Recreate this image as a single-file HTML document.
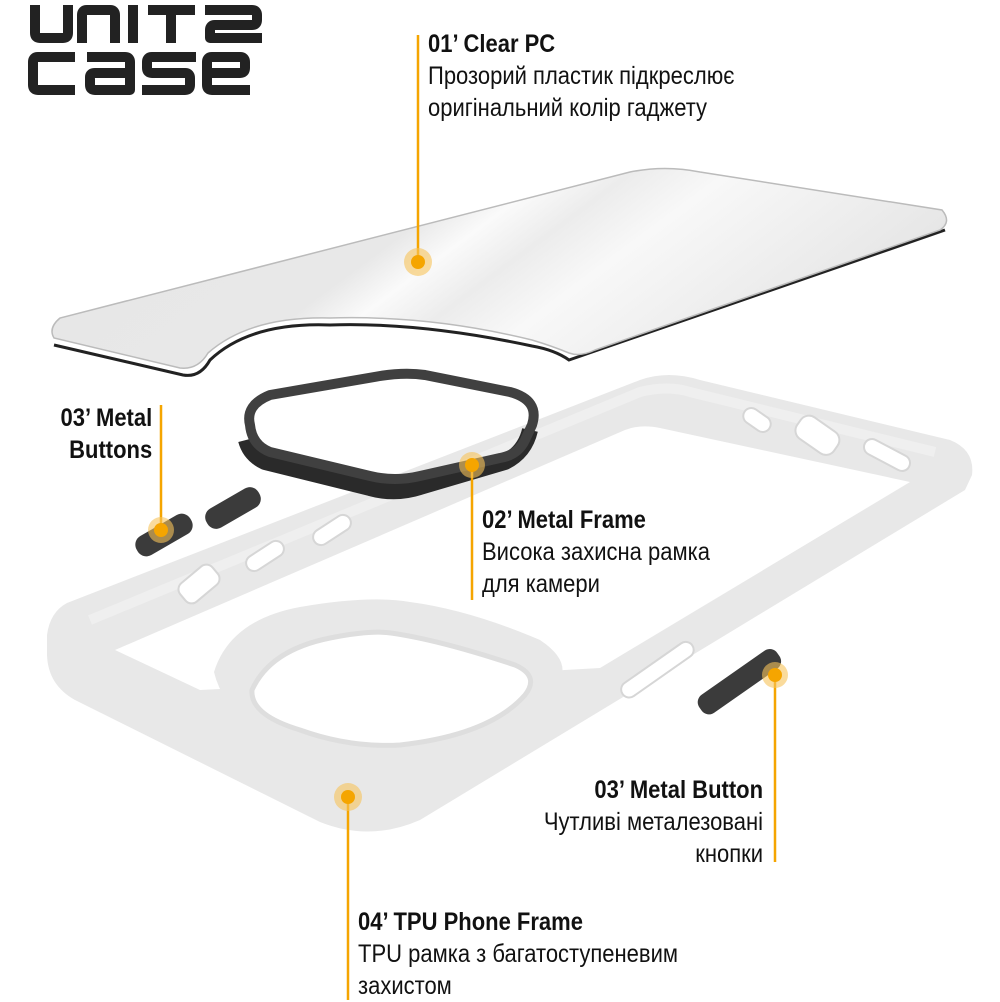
<!DOCTYPE html>
<html><head><meta charset="utf-8"><style>
html,body{margin:0;padding:0;background:#fff;}
body{width:1000px;height:1000px;position:relative;overflow:hidden;font-family:"Liberation Sans",sans-serif;}
svg{position:absolute;left:0;top:0;}
.t{position:absolute;font-size:25px;color:#111;white-space:nowrap;transform:scaleX(0.88);line-height:32px;}
.l{transform-origin:left top;}
.r{transform-origin:right top;text-align:right;}
b{font-weight:bold;}
</style></head><body>
<svg width="1000" height="1000" viewBox="0 0 1000 1000">
<defs>
<linearGradient id="pl" x1="0" y1="0" x2="1" y2="0.3">
<stop offset="0" stop-color="#e6e6e6"/><stop offset="0.45" stop-color="#e8e8e8"/><stop offset="0.52" stop-color="#fafafa"/><stop offset="0.6" stop-color="#ececec"/><stop offset="0.7" stop-color="#f8f8f8"/><stop offset="1" stop-color="#e6e6e6"/></linearGradient>
</defs>
<!-- logo -->
<g fill="none" stroke="#222" stroke-width="10" stroke-linejoin="round" stroke-linecap="butt">
<path d="M35,5 V33 Q35,38 40,38 H63 Q68,38 68,33 V5"/>
<path d="M82,43 V15 Q82,10 87,10 H110 Q115,10 115,15 V43"/>
<path d="M133,5 V43"/>
<path d="M148,10 H195 M171,10 V43"/>
<path d="M205,10 H252 Q257,10 257,15 V20 Q257,25 252,25 H215 Q210,25 210,30 V38 H262"/>
<path d="M75,57 H38 Q33,57 33,62 V85 Q33,90 38,90 H75"/>
<path d="M87,57 H125 Q130,57 130,62 V90 H95 Q90,90 90,85 V77 Q90,73 95,73 H130"/>
<path d="M196,57 H152 Q147,57 147,62 V68 Q147,73 152,73 H185 Q190,73 190,78 V85 Q190,90 185,90 H142"/>
<path d="M250,90 H212 Q207,90 207,85 V62 Q207,57 212,57 H240 Q245,57 245,62 V68 Q245,73 240,73 H207"/>
</g>
<!-- clear plate -->
<path d="M54,345 L183,375 Q200,378 210,360 Q250,322 330,325 Q420,322 532,346 Q555,350 569,360 L945,230" fill="none" stroke="#222" stroke-width="3"/>
<path d="M60,318 Q48,328 54,338 L180,368 Q198,370 208,353 Q250,316 330,318 Q430,315 532,340 Q552,346 569,353 Q580,357 595,350 L940,230 Q952,222 942,210 L700,172 Q665,165 630,172 Z" fill="url(#pl)" stroke="#bbb" stroke-width="1.5"/>
<!-- TPU frame -->
<path d="M67,603 L640,380 Q668,370 700,380 L950,440 Q975,450 972,475 L965,490 L420,820 Q370,842 320,822 L75,700 Q48,685 47,655 L47,635 Q50,612 67,603 Z" fill="#e8e8e8"/>
<path d="M115,650 L625,430 Q640,424 660,428 L910,482 L600,668 L300,685 L200,690 Z" fill="#fff"/>
<path d="M90,620 L640,392 Q668,385 690,392 L935,452" fill="none" stroke="#efefef" stroke-width="10"/>
<!-- camera island -->
<path d="M214,672 Q230,620 300,607 Q370,595 410,602 Q470,610 540,640 Q570,660 560,680 Q530,730 470,760 L400,800 L300,760 Q225,720 214,672 Z" fill="#e8e8e8"/>
<path d="M252,690 Q270,650 330,638 Q370,630 391,633 Q440,640 515,665 Q540,676 525,695 Q490,735 400,745 Q350,748 300,730 Q250,715 252,690 Z" fill="#fff" stroke="#dedede" stroke-width="5"/>
<!-- frame cutouts -->
<g fill="#fff" stroke="#d6d6d6" stroke-width="2">
<rect x="178" y="572" width="42" height="24" rx="8" transform="rotate(-40 199 584)"/>
<rect x="244" y="548" width="42" height="16" rx="8" transform="rotate(-33 265 556)"/>
<rect x="311" y="522" width="42" height="16" rx="8" transform="rotate(-33 332 530)"/>
<rect x="615" y="662" width="85" height="16" rx="8" transform="rotate(-35 657 670)"/>
<rect x="742" y="412" width="30" height="16" rx="8" transform="rotate(35 757 420)"/>
<rect x="795" y="422" width="45" height="26" rx="10" transform="rotate(35 817 435)"/>
<rect x="862" y="447" width="50" height="16" rx="8" transform="rotate(28 887 455)"/>
</g>
<!-- ring -->
<path d="M246,440 Q250,455 265,462 L370,488 Q395,495 420,487 L505,462 Q525,452 530,430" fill="none" stroke="#2a2a2a" stroke-width="16" stroke-linejoin="round"/>
<path d="M250,425 Q245,405 270,395 L380,376 Q405,372 425,375 L510,392 Q540,400 532,425 L525,440 Q518,455 500,458 L420,476 Q395,482 370,476 L270,452 Q252,445 250,425 Z" fill="none" stroke="#404040" stroke-width="10" stroke-linejoin="round"/>
<!-- buttons -->
<g fill="#3b3b3b">
<rect x="133" y="524" width="62" height="22" rx="10" transform="rotate(-30 164 535)"/>
<rect x="203" y="497" width="60" height="22" rx="10" transform="rotate(-30 233 508)"/>
<rect x="692" y="671" width="95" height="22" rx="9" transform="rotate(-35 739 682)"/>
</g>
<!-- lines & dots -->
<g stroke="#f5a500" stroke-width="2.5">
<line x1="418" y1="35" x2="418" y2="262"/>
<line x1="161" y1="405" x2="161" y2="530"/>
<line x1="472" y1="465" x2="472" y2="600"/>
<line x1="775" y1="672" x2="775" y2="862"/>
<line x1="348" y1="797" x2="348" y2="1000"/>
</g>
<g>
<circle cx="418" cy="262" r="14" fill="#f7c35a" opacity="0.6"/><circle cx="418" cy="262" r="7" fill="#f5a500"/>
<circle cx="161" cy="530" r="13" fill="#f7c35a" opacity="0.6"/><circle cx="161" cy="530" r="7" fill="#f5a500"/>
<circle cx="472" cy="465" r="13" fill="#f7c35a" opacity="0.6"/><circle cx="472" cy="465" r="7" fill="#f5a500"/>
<circle cx="775" cy="675" r="13" fill="#f7c35a" opacity="0.6"/><circle cx="775" cy="675" r="7" fill="#f5a500"/>
<circle cx="348" cy="797" r="14" fill="#f7c35a" opacity="0.6"/><circle cx="348" cy="797" r="7" fill="#f5a500"/>
</g>
</svg>
<div class="t l" style="left:428px;top:28px;"><b>01’ Clear PC</b><br>Прозорий пластик підкреслює<br>оригінальний колір гаджету</div>
<div class="t r" style="right:848px;top:402px;"><b>03’ Metal<br>Buttons</b></div>
<div class="t l" style="left:482px;top:504px;"><b>02’ Metal Frame</b><br>Висока захисна рамка<br>для камери</div>
<div class="t r" style="right:237px;top:774px;"><b>03’ Metal Button</b><br>Чутливі металезовані<br>кнопки</div>
<div class="t l" style="left:358px;top:906px;"><b>04’ TPU Phone Frame</b><br>TPU рамка з багатоступеневим<br>захистом</div>
</body></html>
